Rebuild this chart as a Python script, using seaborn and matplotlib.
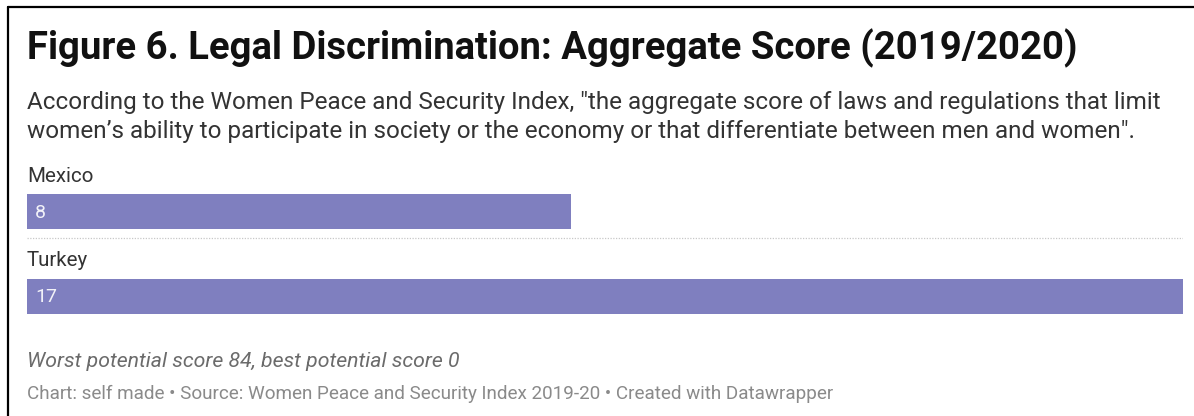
import matplotlib
matplotlib.use("Agg")
import matplotlib.pyplot as plt
import seaborn as sns
import pandas as pd
from matplotlib.lines import Line2D

countries = ["Mexico", "Turkey"]
scores = [8, 17]

title = "Figure 6. Legal Discrimination: Aggregate Score (2019/2020)"
subtitle_lines = [
    "According to the Women Peace and Security Index, \"the aggregate score of laws and regulations that limit",
    "women\u2019s ability to participate in society or the economy or that differentiate between men and women\".",
]
note = "Worst potential score 84, best potential score 0"
credit = "Chart: self made \u2022 Source: Women Peace and Security Index 2019-20 \u2022 Created with Datawrapper"

sns.set_theme(style="white")
plt.rcParams["font.family"] = ["Roboto", "DejaVu Sans"]

W, H, DPI = 1194, 416, 100
fig = plt.figure(figsize=(W / DPI, H / DPI), dpi=DPI)
fig.patch.set_facecolor("white")


def fx(px):
    return px / W


def fy(py):
    return 1 - py / H


# plot area: bars run from x=27 to x=1183 px
left, right = 27, 1183
top_px, bot_px = 160, 320
ax = fig.add_axes([fx(left), fy(bot_px), fx(right - left), (bot_px - top_px) / H])

df = pd.DataFrame({"country": countries, "score": scores})
bar_color = "#7f7fbf"
sns.barplot(data=df, x="score", y="country", orient="h", color=bar_color,
            width=0.41, saturation=1, ax=ax, linewidth=0)

row_px = 85.0
ax.set_xlim(0, max(scores))
ax.set_ylim((bot_px - 211.5) / row_px, (top_px - 211.5) / row_px)
ax.set_axis_off()

x_pad = 8 * max(scores) / (right - left)  # 8 px inset for value labels
for i, (c, v) in enumerate(zip(countries, scores)):
    ax.text(0, i - 30 / row_px, c, fontsize=14.8, color="#333333",
            va="baseline", ha="left")
    ax.text(x_pad, i + 6 / row_px, str(v), fontsize=14, color="#ffffff",
            alpha=0.9, va="baseline", ha="left")

# dotted separator between rows
ax.axhline(0.5 - 16 / row_px, color="#c8c8c8", linestyle=(0, (1, 1.2)), linewidth=0.9)

# header and footer text
fig.text(fx(27), fy(59), title, fontsize=27.5, fontweight="bold", color="#111111",
         va="baseline", ha="left")
fig.text(fx(27), fy(109), subtitle_lines[0], fontsize=17.5, color="#333333",
         va="baseline", ha="left")
fig.text(fx(27), fy(138), subtitle_lines[1], fontsize=17.5, color="#333333",
         va="baseline", ha="left")
fig.text(fx(27), fy(367), note, fontsize=15.3, style="italic", color="#6b6b6b",
         va="baseline", ha="left")
fig.text(fx(27), fy(399), credit, fontsize=13.6, color="#8a8a8a",
         va="baseline", ha="left")

# frame on the left and top edges
fig.add_artist(Line2D([fx(8), fx(8)], [fy(7), 0], transform=fig.transFigure,
                      color="black", linewidth=1.6))
fig.add_artist(Line2D([fx(8), 1], [fy(7), fy(7)], transform=fig.transFigure,
                      color="black", linewidth=1.6))

fig.savefig("out.png", dpi=DPI, facecolor="white")
